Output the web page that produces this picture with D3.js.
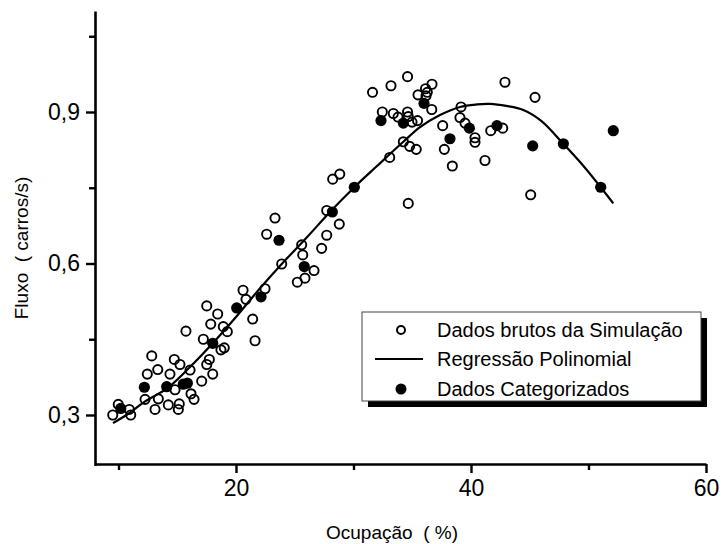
<!DOCTYPE html>
<html>
<head>
<meta charset="utf-8">
<script src="https://cdn.jsdelivr.net/npm/d3@7"></script>
<style>
  html, body { margin: 0; padding: 0; background: #fff; }
  svg { display: block; }
  text { font-family: "Liberation Sans", Arial, sans-serif; fill: #000; }
</style>
</head>
<body>
<svg id="chart" width="724" height="544"></svg>
<script>
// ---- data ----
const rawX = [9.51,9.98,10.92,11.04,12.26,12.45,12.83,13.34,13.11,13.39,14.24,14.38,14.75,15.23,15.17,15.09,15.74,16.09,16.17,16.43,17.08,17.22,17.51,17.73,18.02,17.51,18.44,17.85,18.92,19.26,18.72,19.00,14.81,
  20.60,20.85,21.42,21.62,23.32,22.61,23.89,22.47,25.59,25.68,26.64,25.87,25.22,27.29,27.72,28.79,27.72,28.23,28.83,
  34.60,33.19,31.62,36.68,36.13,36.28,36.17,35.49,36.66,32.45,33.39,33.79,34.60,34.66,34.98,35.45,37.59,39.15,39.06,39.49,
  34.24,34.78,35.34,33.08,37.73,38.41,34.66,40.34,40.34,41.68,42.70,41.19,42.89,45.45,45.08];
const rawY = [0.300,0.321,0.311,0.300,0.331,0.381,0.417,0.390,0.311,0.332,0.320,0.381,0.410,0.400,0.322,0.311,0.466,0.389,0.342,0.331,0.367,0.450,0.400,0.410,0.381,0.516,0.500,0.480,0.475,0.465,0.429,0.433,0.350,
  0.547,0.529,0.490,0.447,0.690,0.658,0.599,0.550,0.637,0.617,0.586,0.571,0.563,0.630,0.656,0.678,0.705,0.767,0.777,
  0.970,0.952,0.939,0.955,0.946,0.939,0.932,0.934,0.905,0.900,0.897,0.890,0.900,0.891,0.880,0.883,0.873,0.910,0.889,0.878,
  0.841,0.832,0.826,0.810,0.826,0.793,0.719,0.849,0.840,0.863,0.868,0.804,0.959,0.929,0.736];

const catX = [10.19,12.20,14.10,15.51,15.86,18.02,20.06,22.13,23.66,25.81,28.20,30.07,32.34,34.24,36.00,38.21,39.86,42.21,45.25,47.86,51.04,52.11];
const catY = [0.313,0.355,0.356,0.361,0.363,0.442,0.512,0.534,0.646,0.594,0.702,0.751,0.883,0.878,0.917,0.847,0.868,0.873,0.833,0.837,0.751,0.863];

const regX = [9.53,11.0,12.26,14.1,16.0,18.02,20.0,21.9,23.89,26.0,28.0,30.07,32.0,34.24,35.66,37.36,39.06,40.5,41.62,43.0,44.45,46.0,47.86,49.5,51.04,52.11];
const regY = [0.284,0.305,0.327,0.352,0.393,0.442,0.494,0.547,0.599,0.651,0.702,0.751,0.793,0.841,0.870,0.894,0.910,0.915,0.916,0.912,0.904,0.882,0.837,0.795,0.751,0.719];

const xMajor = [20, 40, 60];
const xMinor = [10, 30, 50];
const yMajor = [0.3, 0.6, 0.9];
const yMinor = [0.45, 0.75, 1.05];
const xTitle = "Ocupação  ( %)";
const yTitle = "Fluxo  ( carros/s)";
const legendLabels = ["Dados brutos da Simulação", "Regressão Polinomial", "Dados Categorizados"];

// ---- scales ----
const svg = d3.select("#chart");
const x = d3.scaleLinear().domain([8, 60]).range([95, 706]);
const y = d3.scaleLinear().domain([0.2, 1.1]).range([465.5, 11]);

// ---- axes ----
const fmt = d => d.toFixed(1).replace(".", ",");
const gx = svg.append("g").attr("transform", `translate(0,${y(0.2) - 1.5})`);
gx.call(d3.axisBottom(x).tickValues(xMajor).tickSize(9).tickSizeOuter(0).tickPadding(7));
gx.append("g").call(d3.axisBottom(x).tickValues(xMinor).tickSize(6).tickSizeOuter(0).tickFormat(""))
  .select(".domain").remove();
const gy = svg.append("g").attr("transform", `translate(${x(8)},0)`);
gy.call(d3.axisLeft(y).tickValues(yMajor).tickSize(9).tickSizeOuter(0).tickPadding(6).tickFormat(fmt));
gy.append("g").call(d3.axisLeft(y).tickValues(yMinor).tickSize(6).tickSizeOuter(0).tickFormat(""))
  .select(".domain").remove();
svg.selectAll(".domain").attr("stroke", "#000").attr("stroke-width", 2.6);
svg.selectAll(".tick line").attr("stroke", "#000").attr("stroke-width", 2.4);
svg.selectAll(".tick text").attr("font-family", "Liberation Sans, Arial, sans-serif").attr("font-size", 23).attr("fill", "#000");

// axis titles
svg.append("text").attr("x", 392).attr("y", 539).attr("text-anchor", "middle")
  .attr("font-size", 19).style("white-space", "pre").text(xTitle);
svg.append("text").attr("transform", "translate(28,248) rotate(-90)").attr("text-anchor", "middle")
  .attr("font-size", 19).style("white-space", "pre").text(yTitle);

// ---- marks ----
const raw = rawX.map((v, i) => [v, rawY[i]]);
const cat = catX.map((v, i) => [v, catY[i]]);
const reg = regX.map((v, i) => [v, regY[i]]);

svg.append("path").datum(reg)
  .attr("d", d3.line().x(d => x(d[0])).y(d => y(d[1])).curve(d3.curveCatmullRom))
  .attr("fill", "none").attr("stroke", "#000").attr("stroke-width", 2.2);

svg.append("g").selectAll("circle").data(raw).join("circle")
  .attr("cx", d => x(d[0])).attr("cy", d => y(d[1])).attr("r", 4.6)
  .attr("fill", "none").attr("stroke", "#000").attr("stroke-width", 1.9);

svg.append("g").selectAll("circle").data(cat).join("circle")
  .attr("cx", d => x(d[0])).attr("cy", d => y(d[1])).attr("r", 5.6)
  .attr("fill", "#000");

// ---- legend ----
const lg = svg.append("g");
lg.append("rect").attr("x", 368).attr("y", 318).attr("width", 339).attr("height", 89).attr("fill", "#000");
lg.append("rect").attr("x", 362).attr("y", 312).attr("width", 339).attr("height", 89)
  .attr("fill", "#fff").attr("stroke", "#444").attr("stroke-width", 1);
const rows = [330, 359, 389];
lg.append("circle").attr("cx", 401).attr("cy", rows[0]).attr("r", 4).attr("fill", "none").attr("stroke", "#000").attr("stroke-width", 2);
lg.append("line").attr("x1", 375).attr("x2", 423).attr("y1", rows[1]).attr("y2", rows[1]).attr("stroke", "#000").attr("stroke-width", 2.2);
lg.append("circle").attr("cx", 401).attr("cy", rows[2]).attr("r", 5.5).attr("fill", "#000");
legendLabels.forEach((t, i) => {
  lg.append("text").attr("x", 437).attr("y", rows[i] + 7).attr("font-size", 20).text(t);
});
</script>
</body>
</html>
